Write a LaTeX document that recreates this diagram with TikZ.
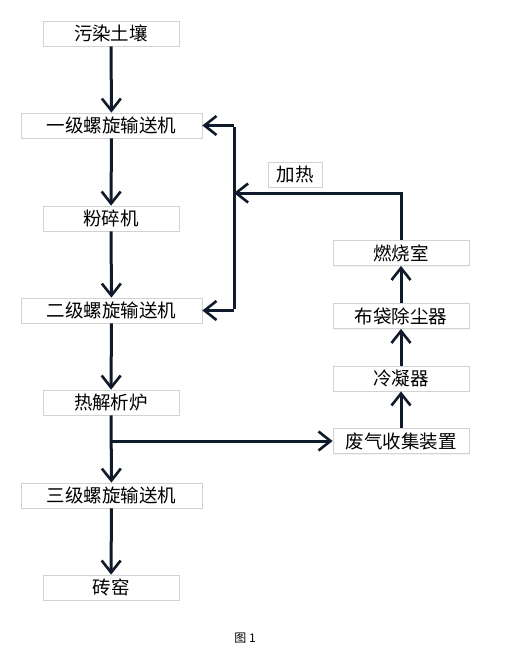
\documentclass[tikz,border=0pt]{standalone}
\usepackage{fontspec}
\setmainfont{Liberation Serif}
\newfontfamily\cjk{Noto Sans CJK SC}
\usetikzlibrary{arrows.meta,shadows}
\definecolor{linecol}{HTML}{0F1A2A}
\definecolor{boxline}{HTML}{D2D2D2}
\begin{document}
\begin{tikzpicture}[x=1pt,y=-1pt,
  box/.style={draw=boxline, line width=0.8pt, fill=white, minimum height=25pt, inner sep=0pt,
    drop shadow={shadow xshift=1pt, shadow yshift=-1pt, fill=gray!18},
    font=\cjk\fontsize{18.5}{18.5}\selectfont},
  narrow/.style={box, minimum width=136pt},
  wide/.style={box, minimum width=181pt},
  plainline/.style={line width=3pt, draw=linecol},
  flow/.style={plainline, -{Straight Barb[length=12pt,width=19pt,line width=2.6pt]}}]
\useasboundingbox[fill=white] (0,0) rectangle (522,662);
% left column
\node[narrow] (soil)  at (111,33.5)  {污染土壤};
\node[wide]   (c1)    at (111.5,125.5) {一级螺旋输送机};
\node[narrow] (crush) at (111,218.5) {粉碎机};
\node[wide]   (c2)    at (111.5,310.5) {二级螺旋输送机};
\node[narrow] (pyro)  at (111,402.5) {热解析炉};
\node[wide]   (c3)    at (111.5,495.5) {三级螺旋输送机};
\node[narrow] (kiln)  at (111,587.5) {砖窑};
% right column
\node[narrow] (burn)  at (401,253)   {燃烧室};
\node[narrow] (bag)   at (401,316)   {布袋除尘器};
\node[narrow] (cond)  at (401,378.5) {冷凝器};
\node[narrow] (gas)   at (401,441)   {废气收集装置};
\node[box, minimum width=54pt] (heat) at (295,174.5) {加热};
% caption
\node[font=\cjk\fontsize{12}{12}\selectfont] (cap) at (245,638) {图 1};
% coordinates
\coordinate (j)  at (234,193);
\coordinate (j1) at (234,125.5);
\coordinate (j2) at (234,310.5);
\coordinate (top) at (401,193);
\coordinate (br) at (111,441);
% main flow
\draw[flow] (soil) -- (c1);
\draw[flow] (c1) -- (crush);
\draw[flow] (crush) -- (c2);
\draw[flow] (c2) -- (pyro);
\draw[flow] (pyro) -- (c3);
\draw[flow] (c3) -- (kiln);
% gas treatment
\draw[flow] (br) -- (gas.west);
\draw[flow] (gas) -- (cond);
\draw[flow] (cond) -- (bag);
\draw[flow] (bag) -- (burn);
% heat feedback
\draw[plainline] (burn.north) -- ([yshift=1.5pt]top);
\draw[flow] (top) -- (j);
\draw[plainline] ([yshift=-1.5pt]j1) -- ([yshift=1.5pt]j2);
\draw[flow] (j1) -- (c1.east);
\draw[flow] (j2) -- (c2.east);
\end{tikzpicture}
\end{document}
